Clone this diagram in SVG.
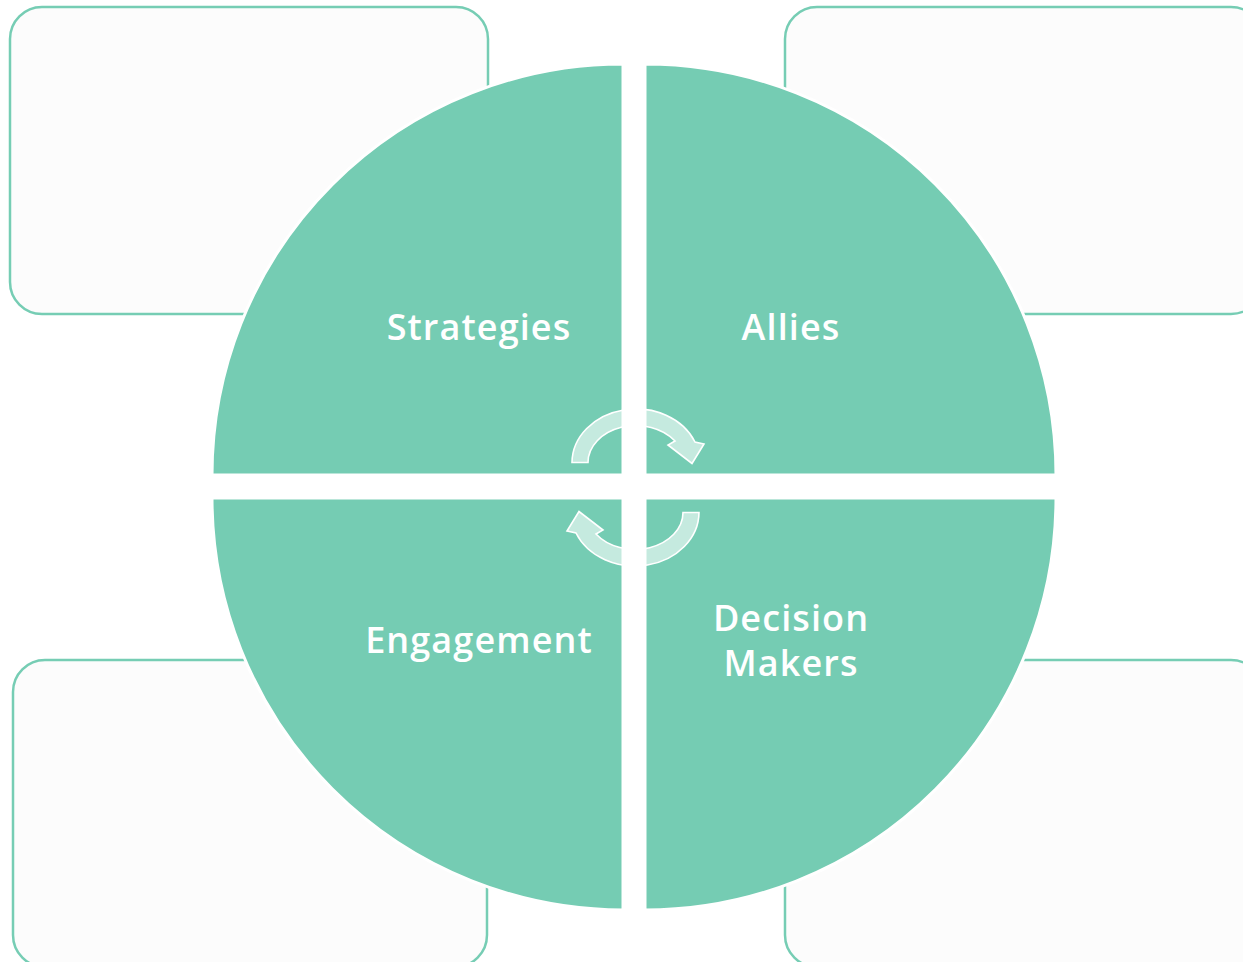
<svg xmlns="http://www.w3.org/2000/svg" width="1243" height="962" viewBox="0 0 1243 962">
<style>
.box{fill:#FCFCFC;stroke:#76CDB4;stroke-width:2.5}
.q{fill:#75CCB3;stroke:#FFFFFF;stroke-width:3}
.arr{fill:#FFFFFF;fill-opacity:0.58;stroke:#FFFFFF;stroke-width:1.6;stroke-linejoin:miter}
.lbl{fill:#FFFFFF;font-family:"Open Sans","Noto Sans","DejaVu Sans",sans-serif;font-weight:600;font-size:36px;letter-spacing:1.1px;text-anchor:middle}
</style>
<rect width="1243" height="962" fill="#FFFFFF"/>
<g id="boxes">
<rect id="box-tl" class="box" x="10" y="7" width="478" height="307" rx="32"/>
<rect id="box-tr" class="box" x="785" y="7" width="478" height="307" rx="32"/>
<rect id="box-bl" class="box" x="13" y="660" width="474" height="307" rx="32"/>
<rect id="box-br" class="box" x="785" y="660" width="478" height="307" rx="32"/>
</g>
<g id="strategies">
<path class="q" d="M623,475 L212,475 A411,411 0 0 1 623,64 Z"/>
<text class="lbl" x="479" y="340">Strategies</text>
</g>
<g id="allies">
<path class="q" d="M645,475 L645,64 A411,411 0 0 1 1056,475 Z"/>
<text class="lbl" x="791" y="340">Allies</text>
</g>
<g id="engagement">
<path class="q" d="M623,498 L623,910 A412,412 0 0 1 212,498 Z"/>
<text class="lbl" x="479" y="653">Engagement</text>
</g>
<g id="decision-makers">
<path class="q" d="M645,498 L1056,498 A411,412 0 0 1 645,910 Z"/>
<text class="lbl" x="791" y="631">Decision</text>
<text class="lbl" x="791" y="676">Makers</text>
</g>
<g id="connectors">
<path class="arr" d="M572,462.5 A64,54 0 0 1 695,442 L704,444 L692,463.5 L668,445 L675,441 A48,37 0 0 0 588,462.5 Z"/>
<path class="arr" transform="rotate(180 635.5 487.5)" d="M572,462.5 A64,54 0 0 1 695,442 L704,444 L692,463.5 L668,445 L675,441 A48,37 0 0 0 588,462.5 Z"/>
</g>
</svg>
